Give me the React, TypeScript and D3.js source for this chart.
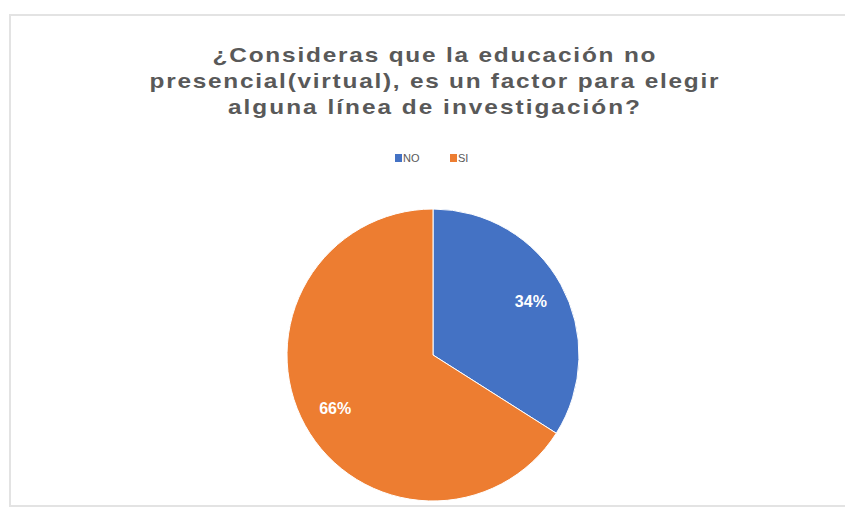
import React from "react";
import * as d3 from "d3";

const categories = ["NO", "SI"];
const values = [34, 66];
const colors = ["#4472C4", "#ED7D31"];
const titleLines = [
  "¿Consideras que la educación no",
  "presencial(virtual), es un factor para elegir",
  "alguna línea de investigación?",
];

const W = 845;
const H = 515;
const cx = 433;
const cy = 355;
const R = 146;

export default function App() {
  const pie = d3.pie<number>().sort(null).value((d) => d)(values);
  const arc = d3.arc<d3.PieArcDatum<number>>().innerRadius(0).outerRadius(R);
  const labelArc = d3
    .arc<d3.PieArcDatum<number>>()
    .innerRadius(R * 0.765)
    .outerRadius(R * 0.765);
  const total = d3.sum(values);
  const titleWidths = [443, 569, 412];
  const titleY = [62, 88, 114];
  const sx = 1.22;

  return (
    <svg
      width={W}
      height={H}
      style={{ position: "absolute", left: 0, top: 0, background: "#fff" }}
      fontFamily="'Liberation Sans', Arial, sans-serif"
    >
      <path d={`M${W},15 H10 V506 H${W}`} fill="none" stroke="#e3e3e3" strokeWidth={2} />
      {titleLines.map((t, i) => (
        <text
          key={i}
          transform={`translate(434,${titleY[i]}) scale(${sx},1)`}
          textAnchor="middle"
          fontSize={20}
          fontWeight="bold"
          fill="#595959"
          textLength={titleWidths[i] / sx}
          lengthAdjust="spacing"
        >
          {t}
        </text>
      ))}
      {categories.map((c, i) => {
        const x0 = [395, 450][i];
        return (
          <g key={c}>
            <rect x={x0} y={154} width={7} height={8} fill={colors[i]} />
            <text x={x0 + 8} y={162} fontSize={11} fill="#595959">
              {c}
            </text>
          </g>
        );
      })}
      <g transform={`translate(${cx},${cy})`}>
        {pie.map((p, i) => (
          <path key={i} d={arc(p) || ""} fill={colors[i]} stroke="#fff" strokeWidth={1} />
        ))}
        {pie.map((p, i) => {
          const [lx, ly] = labelArc.centroid(p);
          return (
            <text
              key={"l" + i}
              x={lx}
              y={ly}
              dy="0.35em"
              textAnchor="middle"
              fontSize={16}
              fontWeight="bold"
              fill="#fff"
            >
              {Math.round((values[i] / total) * 100)}%
            </text>
          );
        })}
      </g>
    </svg>
  );
}
